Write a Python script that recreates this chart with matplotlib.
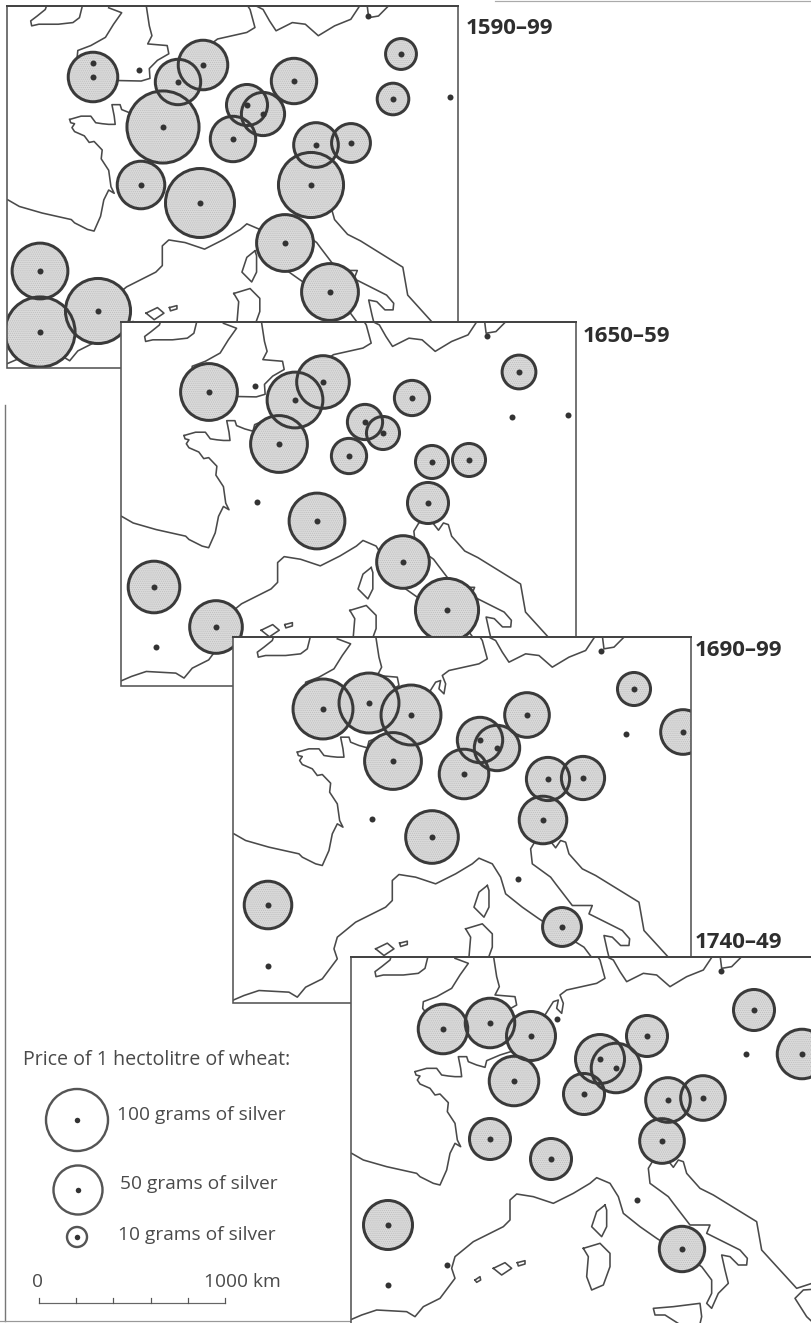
import numpy as np
import matplotlib
matplotlib.use("Agg")
import matplotlib.pyplot as plt
from matplotlib.patches import Circle, Rectangle

plt.rcParams['font.family'] = ['Open Sans', 'DejaVu Sans']
plt.rcParams['hatch.linewidth'] = 0.5

# ---- data: market positions on the sheet and wheat price in grams of silver
p1_x = [93, 178, 203, 163, 247, 263, 294, 233, 401, 393, 316, 351, 311, 141, 200, 285, 330, 40, 98, 40]
p1_y = [77, 82, 65, 127, 105, 114, 81, 139, 54, 99, 145, 143, 185, 185, 203, 243, 292, 271, 311, 332]
p1_g = [52, 45, 52, 136, 39, 42, 45, 45, 25, 26, 44, 36, 111, 48, 125, 80, 80, 76, 111, 129]
p1_dots_x = [139, 450, 368, 93]
p1_dots_y = [70, 97, 16, 63]

p2_x = [209, 295, 323, 279, 365, 383, 412, 349, 519, 432, 469, 428, 317, 403, 447, 154, 216]
p2_y = [392, 400, 382, 444, 422, 433, 398, 456, 372, 462, 460, 503, 521, 562, 610, 587, 627]
p2_g = [80, 76, 64, 80, 31, 28, 31, 31, 29, 28, 28, 39, 76, 64, 104, 60, 64]
p2_dots_x = [255, 512, 568, 257, 156, 487]
p2_dots_y = [386, 417, 415, 502, 647, 336]

p3_x = [323, 369, 411, 393, 480, 497, 527, 464, 634, 683, 548, 583, 543, 432, 562, 268]
p3_y = [709, 703, 715, 761, 740, 748, 715, 774, 689, 732, 779, 778, 820, 837, 927, 905]
p3_g = [92, 92, 92, 80, 45, 45, 44, 52, 28, 44, 42, 42, 48, 64, 36, 48]
p3_dots_x = [372, 626, 518, 268, 601]
p3_dots_y = [819, 734, 879, 966, 651]

p4_x = [443, 490, 531, 514, 600, 616, 647, 584, 754, 802, 668, 703, 662, 490, 551, 388, 682]
p4_y = [1029, 1023, 1036, 1081, 1059, 1068, 1036, 1094, 1010, 1054, 1100, 1098, 1141, 1139, 1159, 1225, 1249]
p4_g = [52, 52, 50, 52, 50, 52, 39, 39, 39, 52, 44, 44, 44, 39, 39, 50, 45]
p4_dots_x = [557, 746, 637, 447, 388, 721]
p4_dots_y = [1019, 1054, 1200, 1265, 1285, 971]

period_labels = ['1590–99', '1650–59', '1690–99', '1740–49']
legend_grams = [100, 50, 10]
legend_labels = ['100 grams of silver', '50 grams of silver', '10 grams of silver']

# ---- base map outlines
ireland = [(265,45),(255,85),(235,100),(190,105),(130,105),(108,110),(105,95),(125,80),(150,60),(155,45)]
britain = [(345,55),(385,70),(360,105),(335,145),(290,170),(250,185),(248,205),(300,275),(445,278),
           (472,270),(470,240),(495,215),(530,195),(525,170),(465,165),(478,140),(470,110),(460,45)]
channel = [(225,395),(260,385),(290,385),(305,405),(325,408),(345,410),(365,410),(362,385),(355,350),
           (380,350),(385,365),(410,375),(435,382),(440,362),(480,345),(560,320),(615,225),(640,185),
           (655,180),(650,205),(665,220),(670,190),(660,165),(680,150),(770,130),(795,115),(780,60),(770,45)]
baltic = [(790,45),(820,60),(840,95),(860,125),(910,100),(950,105),(990,140),(1040,110),(1090,90),(1120,45)]
gulf = [(1140,45),(1145,85),(1175,80),(1210,45)]
france_w = [(225,395),(228,405),(240,408),(232,420),(240,432),(270,445),(285,465),(300,462),(325,488),
            (322,515),(345,550),(352,600),(362,620),(345,610),(330,640),(320,690),(300,735),(280,730),
            (240,710),(230,700),(140,680),(70,660),(35,640)]
med = [(30,1140),(65,1125),(110,1110),(200,1115),(225,1130),(250,1100),(300,1075),(345,1015),(335,985),
       (345,950),(400,905),(490,860),(510,840),(510,780),(530,762),(580,770),(640,790),(700,760),(750,730),
       (770,713),(810,730),(835,770),(850,820),(900,860),(950,895),(1020,940),(1085,980),(1115,1020),
       (1115,1060),(1100,1090),(1115,1105),(1135,1060),(1165,1030),(1155,990),(1145,945),(1170,950),
       (1195,975),(1220,975),(1222,955),(1200,930),(1100,880),(1110,855),(1050,855),(1000,790),(985,770),
       (930,730),(925,685),(940,660),(975,650),(1000,682),(1015,660),(1030,665),(1040,700),(1080,745),(1120,765),
       (1250,845),(1265,930),(1370,1045),(1416,1030),(1460,1030)]
balkan = [(1460,1045),(1390,1050),(1365,1075),(1400,1130),(1416,1145)]
corsica = [(795,795),(770,815),(755,860),(785,890),(800,860),(800,810),(795,795)]
sardinia = [(730,925),(780,910),(810,940),(810,980),(790,1035),(755,1050),(740,1010),(745,950),(730,925)]
majorca = [(460,985),(495,968),(515,985),(485,1005),(460,985)]
minorca = [(532,968),(555,962),(555,972),(535,978),(532,968)]
ibiza = [(405,1020),(420,1010),(422,1020),(410,1027),(405,1020)]
sicily = [(1030,1160),(975,1125),(945,1125),(940,1105),(1000,1100),(1080,1090),(1085,1130),(1078,1160)]
coasts = [ireland, britain, channel, baltic, gulf, france_w, med, balkan, corsica, sardinia,
          majorca, minorca, ibiza, sicily]

INK = '#3a3a3a'
FILL = '#dadada'
PX = 0.72  # one pixel in points at dpi 100


def radius(g):
    return np.interp(g, [0, 10, 50, 100, 150], [0, 10.0, 24.5, 31, 38])


fig = plt.figure(figsize=(8.12, 13.23), dpi=100, facecolor='white')
ax = fig.add_axes([0, 0, 1, 1])
ax.set_xlim(0, 812)
ax.set_ylim(1323, 0)
ax.axis('off')

# page edges of the scan
ax.plot([5.5, 5.5], [405, 1321], color='#777777', lw=1.4*PX, zorder=1)
ax.plot([0, 350], [1321, 1321], color='#999999', lw=1.2*PX, zorder=1)
ax.plot([495, 812], [1, 1], color='#aaaaaa', lw=1.2*PX, zorder=1)

panels = [
    dict(box=(7, 6, 458, 368), sx=0.975, sy=0.985, x=p1_x, y=p1_y, g=p1_g, dx=p1_dots_x, dy=p1_dots_y,
         lab=(466, 28)),
    dict(box=(120.7, 321.5, 576, 686), sx=0.985, sy=0.99, x=p2_x, y=p2_y, g=p2_g, dx=p2_dots_x, dy=p2_dots_y,
         lab=(583, 336)),
    dict(box=(233, 637, 691, 1003), sx=1.0, sy=1.0, x=p3_x, y=p3_y, g=p3_g, dx=p3_dots_x, dy=p3_dots_y,
         lab=(695, 650)),
    dict(box=(350.7, 956.5, 840, 1350), sx=1.0, sy=1.0, x=p4_x, y=p4_y, g=p4_g, dx=p4_dots_x, dy=p4_dots_y,
         lab=(695, 942)),
]

for i, (pn, lab) in enumerate(zip(panels, period_labels)):
    z = 10 + 10*i
    x0, y0, x1, y1 = pn['box']
    back = Rectangle((x0, y0), x1-x0, y1-y0, fc='white', ec='none', zorder=z)
    ax.add_patch(back)
    for c in coasts:
        a = np.array(c, float)
        lx = x0 + pn['sx']*(a[:, 0]/3 - 10.7)
        ly = y0 + pn['sy']*(a[:, 1]/3 - 16.5)
        ln, = ax.plot(lx, ly, color='#4a4a4a', lw=1.6*PX, zorder=z+1, solid_joinstyle='round')
        ln.set_clip_path(back)
    for cx, cy, g in zip(pn['x'], pn['y'], pn['g']):
        f = Circle((cx, cy), radius(g), fc=FILL, ec='#bebebe', lw=0, hatch='........', zorder=z+2)
        ax.add_patch(f)
        f.set_clip_path(back)
    for cx, cy, g in zip(pn['x'], pn['y'], pn['g']):
        e = Circle((cx, cy), radius(g), fc='none', ec=INK, lw=3.0*PX, zorder=z+3)
        ax.add_patch(e)
        e.set_clip_path(back)
    s = ax.scatter(list(pn['x'])+list(pn['dx']), list(pn['y'])+list(pn['dy']), s=(6.0*PX)**2,
                   color='#333333', lw=0, zorder=z+4)
    s.set_clip_path(back)
    ax.add_patch(Rectangle((x0, y0), x1-x0, y1-y0, fc='none', ec='#555555', lw=1.6*PX, zorder=z+5))
    ax.plot([x0, x1], [y0, y0], color='#444444', lw=2.0*PX, zorder=z+5)
    ax.text(pn['lab'][0], pn['lab'][1], lab, fontsize=16, fontweight='bold', color='#2e2e2e',
            ha='left', va='center', zorder=z+6)

# legend
TXT = '#4a4a4a'
ax.text(23, 1060, 'Price of 1 hectolitre of wheat:', fontsize=14.1, color=TXT, ha='left', va='center', zorder=60)
leg_cx = [77, 78, 77]
leg_cy = [1120, 1190, 1237]
leg_tx = [117, 120, 118]
leg_ty = [1115, 1184, 1235]
for cx, cy, tx, ty, g, t in zip(leg_cx, leg_cy, leg_tx, leg_ty, legend_grams, legend_labels):
    ax.add_patch(Circle((cx, cy), radius(g), fc='none', ec='#555555', lw=2.4*PX, zorder=60))
    ax.scatter([cx], [cy], s=(5.5*PX)**2, color='#333333', lw=0, zorder=61)
    ax.text(tx, ty, t, fontsize=13.8, color=TXT, ha='left', va='center', zorder=60)

# scale bar
scale_km = [0, 200, 400, 600, 800, 1000]
km_px = (225-39)/1000
ax.plot([39, 225], [1303, 1303], color='#666666', lw=1.2*PX, zorder=60)
for k in scale_km:
    xx = 39 + k*km_px
    ax.plot([xx, xx], [1303, 1298], color='#555555', lw=1.2*PX, zorder=60)
ax.text(38, 1282, '0', fontsize=13.8, color=TXT, ha='center', va='center', zorder=60)
ax.text(281, 1282, '1000 km', fontsize=13.8, color=TXT, ha='right', va='center', zorder=60)

fig.savefig('out.png', dpi=100, facecolor='white')
